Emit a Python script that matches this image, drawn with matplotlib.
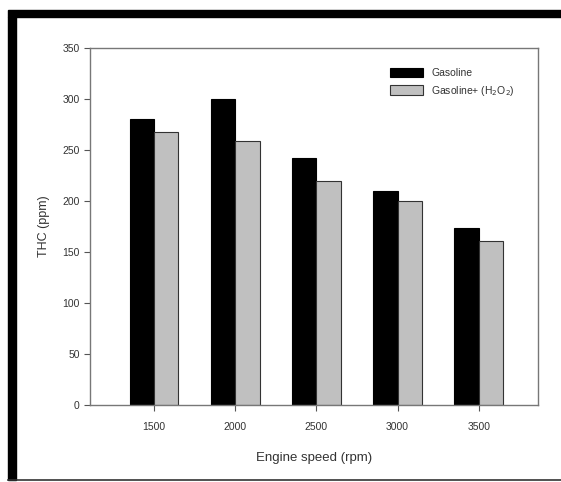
import matplotlib
matplotlib.use('Agg')
import matplotlib.pyplot as plt
from matplotlib.patches import Rectangle
from matplotlib.lines import Line2D
import numpy as np

speeds = ['1500', '2000', '2500', '3000', '3500']
gasoline = [280, 300, 242, 210, 174]
gasoline_h2o2 = [268, 259, 220, 200, 161]

plt.rcParams['font.family'] = ['Liberation Sans', 'DejaVu Sans']

fig = plt.figure(figsize=(5.61, 4.82), dpi=100)
W, H = 561, 482
ax = fig.add_axes([90 / W, 1 - 405 / H, 448 / W, 357 / H])

x = np.arange(len(speeds))
w = 0.3
ax.bar(x - w / 2, gasoline, w, color='black', edgecolor='black', linewidth=0.8, label='Gasoline')
ax.bar(x + w / 2, gasoline_h2o2, w, color='#c0c0c0', edgecolor='#333333', linewidth=0.8,
       label='Gasoline+ (H$_2$O$_2$)')

ax.set_xlim(-0.79, 4.73)
ax.set_ylim(0, 350)
ax.set_yticks(range(0, 351, 50))
ax.set_xticks(x)
ax.set_xticklabels(speeds)
ax.tick_params(axis='both', direction='out', length=4, width=0.8, colors='#555555',
               labelsize=7.5, labelcolor='#333333')
ax.tick_params(axis='x', pad=8)
for s in ax.spines.values():
    s.set_color('#777777')
    s.set_linewidth(1.0)

ax.set_ylabel('THC (ppm)', fontsize=9, color='#333333', labelpad=9)
ax.set_xlabel('Engine speed (rpm)', fontsize=9.5, color='#333333', labelpad=15)

ax.legend(loc='upper right', frameon=False, fontsize=7.5, handlelength=3.2,
          handleheight=1.0, bbox_to_anchor=(0.97, 0.97), labelcolor='#333333')

# black frame around the figure
fig.patches.append(Rectangle((8 / W, 1 - 17 / H), (W - 8) / W, 7 / H,
                             transform=fig.transFigure, color='black'))
fig.patches.append(Rectangle((8 / W, 1 - 480 / H), 8 / W, 463 / H,
                             transform=fig.transFigure, color='black'))
fig.lines.append(Line2D([8 / W, 1], [1 - 480 / H, 1 - 480 / H],
                        transform=fig.transFigure, color='#333333', linewidth=1.2))

fig.savefig('out.png', dpi=100)
